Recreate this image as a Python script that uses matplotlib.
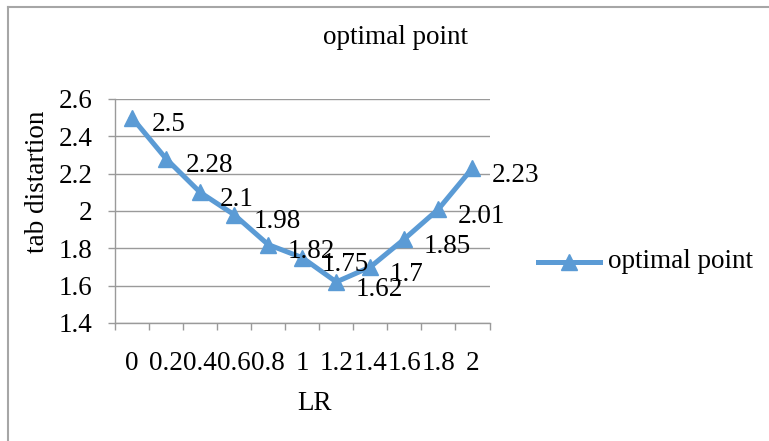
import matplotlib
matplotlib.use("Agg")
import matplotlib.pyplot as plt
from matplotlib.lines import Line2D

# Data
lr_labels = ["0", "0.2", "0.4", "0.6", "0.8", "1", "1.2", "1.4", "1.6", "1.8", "2"]
distortion = [2.5, 2.28, 2.1, 1.98, 1.82, 1.75, 1.62, 1.7, 1.85, 2.01, 2.23]
y_ticks = [1.4, 1.6, 1.8, 2.0, 2.2, 2.4, 2.6]
y_tick_labels = ["1.4", "1.6", "1.8", "2", "2.2", "2.4", "2.6"]
series_name = "optimal point"

W, H = 769, 441
DPI = 100
plt.rcParams["font.family"] = ["Liberation Serif", "DejaVu Serif"]
FS = 19.5
BLUE = "#5B9BD5"
GRID = "#9A9A9A"

fig = plt.figure(figsize=(W / DPI, H / DPI), dpi=DPI)
fig.patch.set_facecolor("white")

# chart-area frame (top and left edges)
fig.add_artist(Line2D([8 / W, 1], [1 - 7 / H, 1 - 7 / H], transform=fig.transFigure,
                      color="#A6A6A6", lw=1.5))
fig.add_artist(Line2D([8 / W, 8 / W], [0, 1 - 7 / H], transform=fig.transFigure,
                      color="#A6A6A6", lw=1.5))

left, right, top, bottom = 115, 489.5, 99, 323
ax = fig.add_axes([left / W, 1 - bottom / H, (right - left) / W, (bottom - top) / H])

x = list(range(len(lr_labels)))
ax.plot(x, distortion, color=BLUE, lw=3.6, marker="^", markersize=12,
        markerfacecolor=BLUE, markeredgecolor=BLUE, zorder=3, clip_on=False)

for xi, v in zip(x, distortion):
    ax.annotate(f"{v:g}", (xi, v), xytext=(14, -3), textcoords="offset points",
                ha="left", va="center_baseline", fontsize=FS, color="black", zorder=4)

ax.set_xlim(-0.5, len(lr_labels) - 0.5)
ax.set_ylim(1.4, 2.6)
ax.set_yticks(y_ticks)
ax.set_yticklabels(y_tick_labels)
ax.set_xticks(x)
ax.set_xticklabels(lr_labels)
ax.set_xticks([i - 0.5 for i in range(len(lr_labels) + 1)], minor=True)

ax.grid(axis="y", color=GRID, lw=1.0)
ax.set_axisbelow(True)
for s in ["top", "right"]:
    ax.spines[s].set_visible(False)
ax.spines["left"].set_color(GRID)
ax.spines["bottom"].set_color(GRID)
ax.spines["left"].set_linewidth(1.0)
ax.spines["bottom"].set_linewidth(1.0)

ax.tick_params(axis="x", which="major", length=0, pad=20, labelsize=FS)
ax.tick_params(axis="x", which="minor", length=5, width=1.0, color=GRID, direction="out")
ax.tick_params(axis="y", length=5, width=1.0, color=GRID, pad=11, labelsize=FS)

fig.text(395 / W, 1 - 37 / H, "optimal point", ha="center", va="center", fontsize=FS)
fig.text(315 / W, 1 - 403 / H, "LR", ha="center", va="center", fontsize=FS)
fig.text(38 / W, 1 - 182 / H, "tab distartion", ha="center", va="center",
         rotation=90, fontsize=FS)

# legend
fig.add_artist(Line2D([538 / W, 600 / W], [1 - 262 / H, 1 - 262 / H],
                      transform=fig.transFigure, color=BLUE, lw=3.6))
fig.add_artist(Line2D([569 / W], [1 - 262 / H], transform=fig.transFigure,
                      marker="^", markersize=12, color=BLUE, lw=0))
fig.text(608 / W, 1 - 262 / H, series_name, ha="left", va="center", fontsize=FS)

fig.savefig("out.png", dpi=DPI, facecolor="white")
